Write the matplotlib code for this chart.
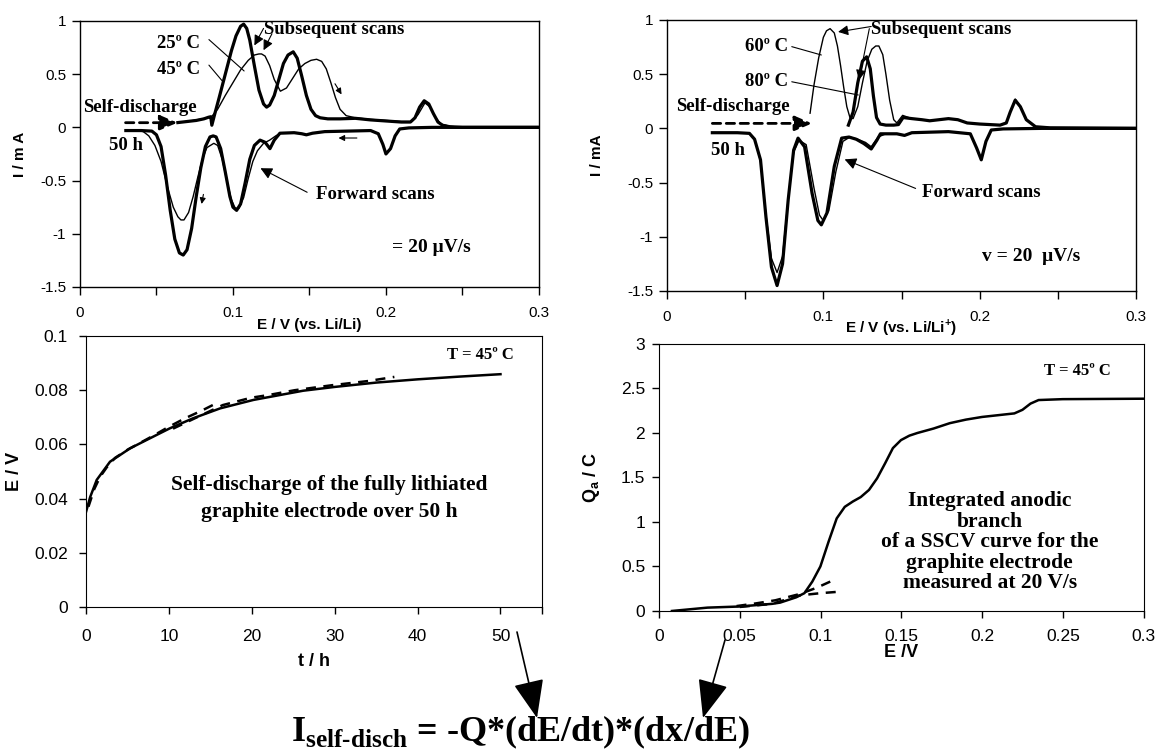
import matplotlib
matplotlib.use("Agg")
import matplotlib.pyplot as plt
from matplotlib.ticker import FuncFormatter, MultipleLocator

plt.rcParams['font.family'] = ['Liberation Sans', 'DejaVu Sans']
plt.rcParams['axes.unicode_minus'] = False
plt.rcParams['mathtext.fontset'] = 'custom'
plt.rcParams['mathtext.rm'] = 'Liberation Serif:bold'
plt.rcParams['mathtext.bf'] = 'Liberation Serif:bold'
plt.rcParams['mathtext.sf'] = 'Liberation Sans:bold'

# ---- top left: SSCV at 25 / 45 C ----
tl_an25_E = [0.064, 0.070, 0.076, 0.081, 0.084, 0.0855, 0.0862, 0.088, 0.091, 0.095, 0.099, 0.102,
             0.105, 0.107, 0.109, 0.111, 0.114, 0.117, 0.12, 0.122, 0.124, 0.127, 0.13, 0.133,
             0.136, 0.1394, 0.142, 0.145, 0.148, 0.151, 0.154, 0.157, 0.162, 0.17, 0.18, 0.19,
             0.2, 0.21, 0.216, 0.219, 0.222, 0.225, 0.228, 0.231, 0.234, 0.237, 0.242, 0.25, 0.3]
tl_an25_I = [0.045, 0.055, 0.065, 0.08, 0.095, 0.10, 0.02, 0.12, 0.28, 0.50, 0.72, 0.86,
             0.95, 0.97, 0.93, 0.82, 0.58, 0.35, 0.22, 0.19, 0.21, 0.30, 0.45, 0.60,
             0.68, 0.71, 0.65, 0.48, 0.30, 0.17, 0.11, 0.09, 0.08, 0.08, 0.085, 0.07,
             0.06, 0.05, 0.05, 0.09, 0.19, 0.25, 0.22, 0.13, 0.05, 0.02, 0.005, 0.0, 0.0]
tl_an45_E = [0.064, 0.072, 0.08, 0.086, 0.09, 0.095, 0.1, 0.105, 0.11, 0.114, 0.117, 0.1187,
             0.121, 0.124, 0.127, 0.131, 0.135, 0.139, 0.143, 0.147, 0.151, 0.1547, 0.158,
             0.161, 0.164, 0.167, 0.17, 0.174, 0.18, 0.19, 0.2, 0.21, 0.217, 0.221, 0.2255,
             0.229, 0.232, 0.236, 0.242, 0.25, 0.3]
tl_an45_I = [0.045, 0.06, 0.08, 0.10, 0.17, 0.30, 0.42, 0.54, 0.63, 0.68, 0.69, 0.69,
             0.67, 0.58, 0.45, 0.34, 0.37, 0.46, 0.55, 0.60, 0.63, 0.64, 0.62,
             0.55, 0.42, 0.28, 0.17, 0.11, 0.09, 0.075, 0.065, 0.055, 0.055, 0.12, 0.23,
             0.19, 0.10, 0.03, 0.01, 0.0, 0.0]
tl_ca25_E = [0.03, 0.04, 0.047, 0.05, 0.053, 0.056, 0.059, 0.062, 0.065, 0.0675, 0.07, 0.073,
             0.076, 0.079, 0.082, 0.085, 0.0871, 0.089, 0.092, 0.095, 0.098, 0.1, 0.1024,
             0.105, 0.108, 0.111, 0.114, 0.1177, 0.121, 0.1242, 0.127, 0.1307, 0.14, 0.145,
             0.148, 0.152, 0.16, 0.175, 0.19, 0.195, 0.198, 0.2, 0.203, 0.206, 0.209, 0.215,
             0.23, 0.3]
tl_ca25_I = [-0.03, -0.03, -0.035, -0.07, -0.18, -0.45, -0.78, -1.05, -1.18, -1.2, -1.15, -0.95,
             -0.65, -0.38, -0.18, -0.09, -0.08, -0.09, -0.2, -0.42, -0.65, -0.75, -0.78,
             -0.72, -0.52, -0.3, -0.17, -0.12, -0.14, -0.2, -0.12, -0.055, -0.05, -0.06,
             -0.07, -0.055, -0.04, -0.035, -0.03, -0.06, -0.16, -0.25, -0.2, -0.08, -0.015, -0.005,
             0.0, 0.0]
tl_ca45_E = [0.03, 0.038, 0.0414, 0.045, 0.049, 0.053, 0.057, 0.061, 0.064, 0.066, 0.068, 0.071,
             0.074, 0.077, 0.08, 0.083, 0.0875, 0.09, 0.093, 0.096, 0.099, 0.1015, 0.104,
             0.107, 0.11, 0.113, 0.116, 0.12, 0.124, 0.128, 0.132, 0.14]
tl_ca45_I = [-0.03, -0.03, -0.04, -0.08, -0.17, -0.32, -0.55, -0.75, -0.84, -0.87, -0.87, -0.8,
             -0.65, -0.47, -0.3, -0.19, -0.15, -0.17, -0.3, -0.5, -0.68, -0.76, -0.76,
             -0.66, -0.48, -0.32, -0.22, -0.15, -0.12, -0.08, -0.05, -0.05]

# ---- top right: SSCV at 60 / 80 C ----
tr_an60_E = [0.0915, 0.094, 0.097, 0.1, 0.102, 0.1043, 0.107, 0.109, 0.111, 0.113, 0.115, 0.117,
             0.119, 0.122, 0.125, 0.128, 0.131, 0.1335, 0.1355, 0.138, 0.14, 0.1424, 0.145,
             0.147, 0.1507, 0.1566, 0.163, 0.168, 0.174, 0.18, 0.186, 0.192, 0.2, 0.213, 0.217,
             0.2195, 0.2227, 0.226, 0.2298, 0.2357, 0.245, 0.3]
tr_an60_I = [0.14, 0.40, 0.65, 0.84, 0.9, 0.92, 0.88, 0.76, 0.58, 0.38, 0.2, 0.1,
             0.09, 0.2, 0.42, 0.62, 0.73, 0.76, 0.76, 0.68, 0.5, 0.26, 0.08,
             0.05, 0.12, 0.09, 0.08, 0.07, 0.08, 0.09, 0.08, 0.05, 0.04, 0.03, 0.05,
             0.15, 0.27, 0.2, 0.08, 0.015, 0.005, 0.0]
tr_an80_E = [0.116, 0.119, 0.122, 0.125, 0.1277, 0.13, 0.132, 0.134, 0.1363, 0.14, 0.145, 0.148,
             0.151, 0.1566, 0.163, 0.168, 0.174, 0.18, 0.186, 0.192, 0.2, 0.213, 0.217, 0.2195,
             0.2227, 0.226, 0.2298, 0.2357, 0.245, 0.3]
tr_an80_I = [0.03, 0.15, 0.42, 0.62, 0.66, 0.55, 0.3, 0.1, 0.04, 0.03, 0.03, 0.035,
             0.1, 0.09, 0.08, 0.07, 0.08, 0.09, 0.08, 0.05, 0.04, 0.03, 0.05, 0.15,
             0.26, 0.2, 0.08, 0.015, 0.005, 0.0]
tr_ca80_E = [0.029, 0.045, 0.0527, 0.056, 0.0598, 0.0633, 0.0668, 0.0704, 0.0739, 0.0775, 0.081,
             0.0838, 0.088, 0.0928, 0.0965, 0.0987, 0.1023, 0.107, 0.1117, 0.1164, 0.121,
             0.1259, 0.1306, 0.1342, 0.1365, 0.147, 0.1519, 0.1566, 0.18, 0.194, 0.198, 0.201,
             0.204, 0.2074, 0.215, 0.24, 0.3]
tr_ca80_I = [-0.04, -0.04, -0.046, -0.1, -0.29, -0.82, -1.28, -1.45, -1.25, -0.66, -0.2,
             -0.09, -0.17, -0.6, -0.85, -0.89, -0.78, -0.35, -0.09, -0.08, -0.1,
             -0.14, -0.19, -0.11, -0.05, -0.05, -0.065, -0.04, -0.03, -0.05, -0.18, -0.29,
             -0.12, -0.015, -0.005, 0.0, 0.0]
tr_ca60_E = [0.029, 0.045, 0.0527, 0.056, 0.0598, 0.0633, 0.0668, 0.0704, 0.0739, 0.0775, 0.081,
             0.0845, 0.089, 0.094, 0.0975, 0.0999, 0.1035, 0.108, 0.1125, 0.117, 0.122, 0.127,
             0.1306, 0.135, 0.14]
tr_ca60_I = [-0.04, -0.04, -0.046, -0.1, -0.3, -0.8, -1.2, -1.33, -1.18, -0.65, -0.22,
             -0.11, -0.15, -0.55, -0.8, -0.85, -0.76, -0.4, -0.12, -0.08, -0.1, -0.13,
             -0.17, -0.08, -0.05]

# ---- bottom left: self-discharge E(t) ----
sd_t = [0, 0.5, 1.3, 2.9, 5.3, 7.3, 10.1, 12.9, 16.2, 20.2, 26.2, 30, 35, 40, 45, 50]
sd_E = [0.035, 0.0405, 0.0469, 0.0536, 0.0585, 0.0616, 0.0659, 0.0696, 0.0733, 0.0764, 0.0798,
        0.0812, 0.0828, 0.084, 0.085, 0.0859]
fit1_t = [0.3, 1.0, 1.7, 2.5, 3.5, 5, 6.5, 8, 10, 12, 14, 16]
fit1_E = [0.037, 0.0435, 0.048, 0.0515, 0.055, 0.058, 0.0605, 0.063, 0.0665, 0.0697, 0.0725, 0.0756]
fit2_t = [10.5, 13.6, 16.5, 19.9, 22, 25.2, 29.6, 34.1, 37.2]
fit2_E = [0.0658, 0.0703, 0.0745, 0.0772, 0.0782, 0.0800, 0.0818, 0.0834, 0.0849]

# ---- bottom right: integrated anodic branch Q(E) ----
q_E = [0.008, 0.03, 0.0496, 0.07, 0.075, 0.085, 0.09, 0.0949, 0.0999, 0.105, 0.11, 0.115, 0.12,
       0.1249, 0.13, 0.135, 0.14, 0.1448, 0.1498, 0.155, 0.16, 0.17, 0.18, 0.19, 0.2, 0.21,
       0.22, 0.225, 0.23, 0.235, 0.25, 0.3]
q_Q = [0.0, 0.0375, 0.05, 0.08, 0.094, 0.154, 0.2, 0.33, 0.5, 0.78, 1.04, 1.17, 1.23,
       1.28, 1.36, 1.49, 1.66, 1.83, 1.92, 1.97, 2.0, 2.05, 2.11, 2.15, 2.18, 2.2,
       2.22, 2.26, 2.33, 2.37, 2.38, 2.385]
tanA_E = [0.048, 0.06, 0.072, 0.087, 0.0975, 0.106]
tanA_Q = [0.055, 0.085, 0.12, 0.19, 0.26, 0.33]
tanB_E = [0.05, 0.07, 0.087, 0.1, 0.112]
tanB_Q = [0.045, 0.08, 0.175, 0.2, 0.217]

SERIF = dict(fontfamily='Liberation Serif', fontweight='bold', color='black')
THICK = 2.3
THIN = 1.0


def gfmt(v, pos):
    return '%g' % round(v, 6)


def tenth_fmt(v, pos):
    if abs(v * 10 - round(v * 10)) < 1e-6:
        return '%g' % round(v, 6)
    return ''


def small_arrow(ax, start, end, ms=9):
    ax.annotate('', xy=end, xytext=start,
                arrowprops=dict(arrowstyle='-|>,head_length=0.5,head_width=0.25', lw=0.8,
                                color='black', mutation_scale=ms, shrinkA=0, shrinkB=0))


def leader(ax, start, end):
    ax.annotate('', xy=end, xytext=start,
                arrowprops=dict(arrowstyle='-', lw=0.8, color='black', shrinkA=0, shrinkB=0))


def dashed_arrow(ax, start, end):
    ax.annotate('', xy=end, xytext=start,
                arrowprops=dict(arrowstyle='-|>,head_length=0.7,head_width=0.3', lw=2.0,
                                ls=(0, (3, 2)), color='black', mutation_scale=15,
                                shrinkA=0, shrinkB=0))


def cv_axes(ax, xlabel, xlab_y):
    ax.set_xlim(0, 0.3)
    ax.set_ylim(-1.5, 1)
    ax.xaxis.set_major_locator(MultipleLocator(0.05))
    ax.xaxis.set_major_formatter(FuncFormatter(tenth_fmt))
    ax.yaxis.set_major_locator(MultipleLocator(0.5))
    ax.yaxis.set_major_formatter(FuncFormatter(gfmt))
    ax.tick_params(axis='both', direction='out', length=6, width=1, labelsize=11)
    ax.tick_params(axis='x', pad=8)
    ax.tick_params(axis='y', pad=4)
    ax.set_xlabel(xlabel, fontsize=11, fontweight='bold', va='center')
    ax.xaxis.set_label_coords(0.5, xlab_y)
    for s in ax.spines.values():
        s.set_linewidth(1.0)


fig = plt.figure(figsize=(11.57, 7.54), dpi=100)

# top left
ax1 = fig.add_axes([0.0691, 0.6194, 0.3967, 0.3528])
ax1.plot(tl_an45_E, tl_an45_I, color='black', lw=THIN)
ax1.plot(tl_an25_E, tl_an25_I, color='black', lw=THICK)
ax1.plot(tl_ca45_E, tl_ca45_I, color='black', lw=THIN)
ax1.plot(tl_ca25_E, tl_ca25_I, color='black', lw=THICK)
cv_axes(ax1, 'E / V (vs. Li/Li)', -38 / 266)
ax1.set_ylabel('I / m A', fontsize=11, fontweight='bold', va='center')
ax1.yaxis.set_label_coords(-60 / 459, 0.5)

ax1.text(0.120, 0.92, 'Subsequent scans', fontsize=13.5, va='center', **SERIF)
small_arrow(ax1, (0.120, 0.93), (0.114, 0.77), ms=12)
small_arrow(ax1, (0.1255, 0.88), (0.120, 0.725), ms=12)
ax1.text(0.0504, 0.79, '25º C', fontsize=13.5, va='center', **SERIF)
ax1.text(0.0504, 0.54, '45º C', fontsize=13.5, va='center', **SERIF)
leader(ax1, (0.0843, 0.825), (0.1073, 0.53))
leader(ax1, (0.0843, 0.585), (0.0928, 0.44))
ax1.text(0.002, 0.19, 'Self-discharge', fontsize=13.5, va='center', **SERIF)
dashed_arrow(ax1, (0.0298, 0.044), (0.0637, 0.044))
ax1.text(0.019, -0.166, '50 h', fontsize=13.5, va='center', **SERIF)
ax1.text(0.154, -0.63, 'Forward scans', fontsize=13.5, va='center', **SERIF)
small_arrow(ax1, (0.1485, -0.61), (0.118, -0.384), ms=14)
ax1.text(0.204, -1.13, '= 20 μV/s', fontsize=14, va='center', **SERIF)
small_arrow(ax1, (0.1667, 0.41), (0.171, 0.31), ms=7)
small_arrow(ax1, (0.0807, -0.63), (0.0795, -0.72), ms=7)
small_arrow(ax1, (0.181, -0.10), (0.169, -0.10), ms=7)

# top right
ax2 = fig.add_axes([0.5765, 0.6141, 0.4054, 0.3594])
ax2.plot(tr_an60_E, tr_an60_I, color='black', lw=THIN)
ax2.plot(tr_an80_E, tr_an80_I, color='black', lw=THICK)
ax2.plot(tr_ca60_E, tr_ca60_I, color='black', lw=THIN)
ax2.plot(tr_ca80_E, tr_ca80_I, color='black', lw=THICK)
cv_axes(ax2, r'E / V (vs. Li/Li$^{\mathsf{+}}$)', -37 / 271)
ax2.set_ylabel('I / mA', fontsize=11, fontweight='bold', va='center')
ax2.yaxis.set_label_coords(-70 / 469, 0.5)

ax2.text(0.1306, 0.91, 'Subsequent scans', fontsize=13.5, va='center', **SERIF)
small_arrow(ax2, (0.1306, 0.94), (0.1094, 0.89), ms=12)
small_arrow(ax2, (0.1294, 0.92), (0.1228, 0.446), ms=12)
ax2.text(0.0498, 0.754, '60º C', fontsize=13.5, va='center', **SERIF)
ax2.text(0.0498, 0.43, '80º C', fontsize=13.5, va='center', **SERIF)
leader(ax2, (0.0798, 0.754), (0.0987, 0.677))
leader(ax2, (0.0798, 0.43), (0.1223, 0.308))
ax2.text(0.0059, 0.206, 'Self-discharge', fontsize=13.5, va='center', **SERIF)
dashed_arrow(ax2, (0.029, 0.046), (0.0928, 0.046))
ax2.text(0.0279, -0.206, '50 h', fontsize=13.5, va='center', **SERIF)
ax2.text(0.1632, -0.594, 'Forward scans', fontsize=13.5, va='center', **SERIF)
small_arrow(ax2, (0.159, -0.554), (0.1136, -0.286), ms=14)
ax2.text(0.2015, -1.185, 'v = 20  μV/s', fontsize=14, va='center', **SERIF)

# bottom left
ax3 = fig.add_axes([0.0743, 0.195, 0.3941, 0.3594])
ax3.plot(sd_t, sd_E, color='black', lw=1.8)
ax3.plot(fit1_t, fit1_E, color='black', lw=1.8, ls=(0, (4, 3)))
ax3.plot(fit2_t, fit2_E, color='black', lw=1.8, ls=(0, (4, 3)))
ax3.set_xlim(0, 55)
ax3.set_ylim(0, 0.1)
ax3.set_xticks([0, 10, 20, 30, 40, 50, 55])
ax3.xaxis.set_major_formatter(FuncFormatter(lambda v, p: '' if v > 50 else '%g' % v))
ax3.yaxis.set_major_locator(MultipleLocator(0.02))
ax3.yaxis.set_major_formatter(FuncFormatter(gfmt))
ax3.tick_params(axis='both', direction='out', length=5, width=1, labelsize=12.5)
ax3.tick_params(axis='x', pad=11)
ax3.tick_params(axis='y', pad=8)
ax3.set_xlabel('t / h', fontsize=13, fontweight='bold', va='center')
ax3.xaxis.set_label_coords(0.5, -55 / 271)
ax3.set_ylabel('E / V', fontsize=13, fontweight='bold', va='center')
ax3.yaxis.set_label_coords(-71 / 456, 0.5)
ax3.text(43.6, 0.0929, 'T = 45º C', fontsize=12, va='center', **SERIF)
ax3.text(29.3, 0.0449, 'Self-discharge of the fully lithiated', fontsize=15.5,
         ha='center', va='center', **SERIF)
ax3.text(29.3, 0.035, 'graphite electrode over 50 h', fontsize=15.5,
         ha='center', va='center', **SERIF)

# bottom right
ax4 = fig.add_axes([0.5696, 0.1897, 0.4188, 0.3541])
ax4.plot(q_E, q_Q, color='black', lw=1.8)
ax4.plot(tanA_E, tanA_Q, color='black', lw=1.8, ls=(0, (4, 3)))
ax4.plot(tanB_E, tanB_Q, color='black', lw=1.8, ls=(0, (4, 3)))
ax4.set_xlim(0, 0.3)
ax4.set_ylim(0, 3)
ax4.xaxis.set_major_locator(MultipleLocator(0.05))
ax4.xaxis.set_major_formatter(FuncFormatter(gfmt))
ax4.yaxis.set_major_locator(MultipleLocator(0.5))
ax4.yaxis.set_major_formatter(FuncFormatter(gfmt))
ax4.tick_params(axis='both', direction='out', length=5, width=1, labelsize=12.5)
ax4.tick_params(axis='x', pad=8)
ax4.tick_params(axis='y', pad=5)
ax4.set_xlabel('E /V', fontsize=13, fontweight='bold', va='center')
ax4.xaxis.set_label_coords(0.5, -42 / 267)
ax4.set_ylabel(r'Q$_{\mathsf{a}}$ / C', fontsize=13, fontweight='bold', va='center')
ax4.yaxis.set_label_coords(-68 / 484.5, 0.5)
ax4.text(0.2385, 2.7, 'T = 45º C', fontsize=12, va='center', **SERIF)
para = ['Integrated anodic', 'branch', 'of a SSCV curve for the',
        'graphite electrode', 'measured at 20 V/s']
para_y = [1.23, 1.005, 0.78, 0.536, 0.31]
for line, yy in zip(para, para_y):
    ax4.text(0.2047, yy, line, fontsize=15.5, ha='center', va='center', **SERIF)

# formula and the two pointers into it
fig.text(0.450, 1 - 741 / 754, r'I$_{\mathbf{self\text{-}disch}}$ = -Q*(dE/dt)*(dx/dE)',
         fontsize=26, ha='center', va='baseline', **SERIF)
big = dict(arrowstyle='-|>,head_length=1.5,head_width=0.6', mutation_scale=16, lw=1.2,
           color='black', shrinkA=0, shrinkB=0)
ax3.annotate('', xy=(537 / 1157, 1 - 718 / 754), xytext=(517 / 1157, 1 - 632 / 754),
             xycoords='figure fraction', textcoords='figure fraction', arrowprops=big,
             annotation_clip=False)
ax3.annotate('', xy=(703 / 1157, 1 - 718 / 754), xytext=(725 / 1157, 1 - 640 / 754),
             xycoords='figure fraction', textcoords='figure fraction', arrowprops=big,
             annotation_clip=False)

fig.savefig('out.png', dpi=100)
